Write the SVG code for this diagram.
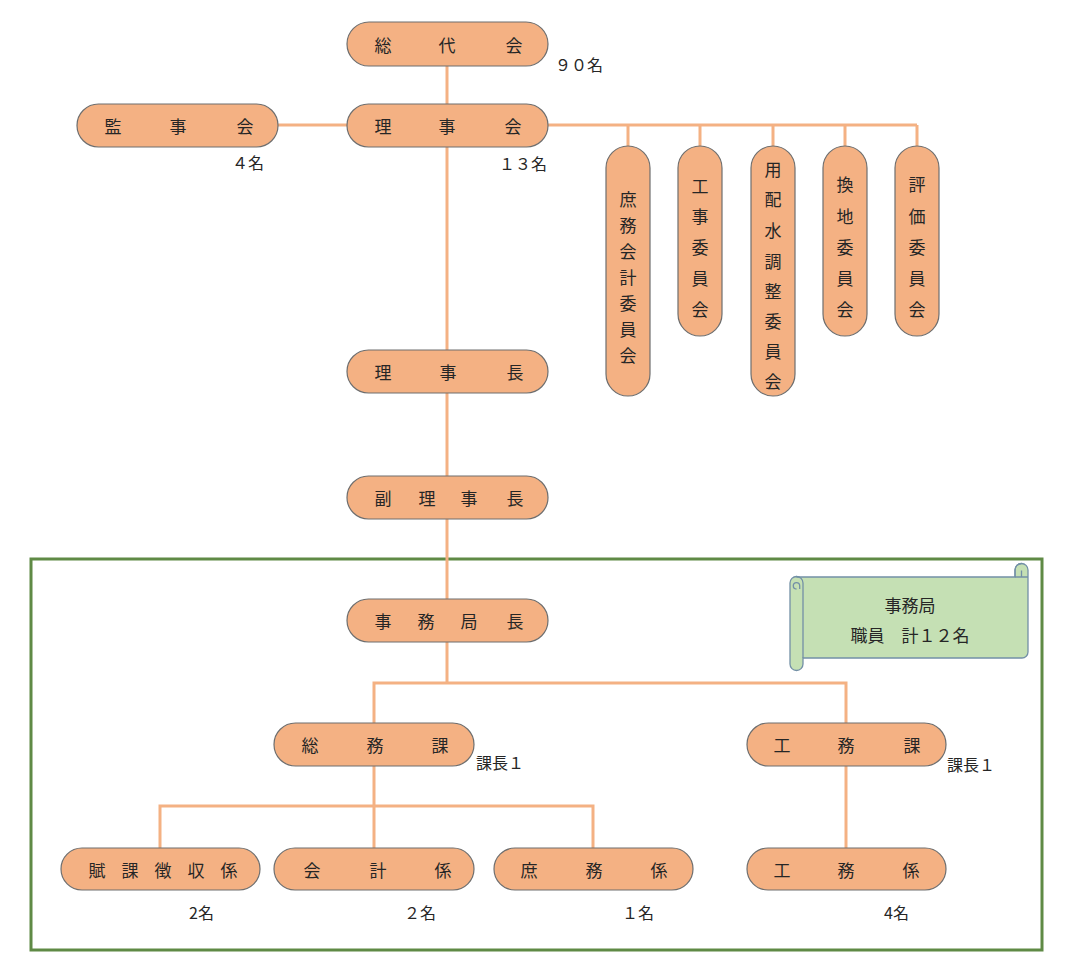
<svg xmlns="http://www.w3.org/2000/svg" width="1075" height="980" viewBox="0 0 1075 980">
<style>
.n{fill:#f4b183;stroke:#6e6e6e;stroke-width:1.2}
.t{font-family:"Noto Sans CJK JP","Noto Sans CJK SC",sans-serif;font-size:17px;fill:#262626;text-anchor:middle;dominant-baseline:central}
.l{font-family:"Noto Sans CJK JP","Noto Sans CJK SC",sans-serif;font-size:16px;fill:#262626;dominant-baseline:central}
.c{fill:none;stroke:#f4b183;stroke-width:3}
</style>
<rect x="0" y="0" width="1075" height="980" fill="#ffffff"/>
<rect id="frame" x="31" y="559" width="1011" height="391" fill="none" stroke="#5f8a45" stroke-width="3"/>
<g id="connectors">
<path class="c" d="M447,66V104"/>
<path class="c" d="M278,125H347"/>
<path class="c" d="M548,125H917M628,125V146M700,125V146M773,125V146M845,125V146M917,125V146"/>
<path class="c" d="M447,147V350"/>
<path class="c" d="M447,393V476"/>
<path class="c" d="M447,519V599"/>
<path class="c" d="M447,642V683M374,723V683H846V723"/>
<path class="c" d="M374,766V848M160,848V806H593V848"/>
<path class="c" d="M846,766V848"/>
</g>
<g id="n-sodaikai"><rect class="n" x="347" y="22" width="201" height="44" rx="22"/><text class="t" x="383 447 514" y="44">総代会</text></g>
<g id="n-rijikai"><rect class="n" x="347" y="104" width="201" height="43" rx="21.5"/><text class="t" x="383 447 513" y="125">理事会</text></g>
<g id="n-kanjikai"><rect class="n" x="77" y="104" width="201" height="43" rx="21.5"/><text class="t" x="113 178 245" y="125">監事会</text></g>
<g id="n-rijicho"><rect class="n" x="347" y="350" width="201" height="43" rx="21.5"/><text class="t" x="383 448 515" y="371">理事長</text></g>
<g id="n-fukurijicho"><rect class="n" x="347" y="476" width="201" height="43" rx="21.5"/><text class="t" x="383 427 469 515" y="497">副理事長</text></g>
<g id="n-jimukyokucho"><rect class="n" x="347" y="599" width="201" height="43" rx="21.5"/><text class="t" x="383 426 469 515" y="620">事務局長</text></g>
<g id="n-somuka"><rect class="n" x="274" y="723" width="200" height="43" rx="21.5"/><text class="t" x="310 375 440" y="744">総務課</text></g>
<g id="n-komuka"><rect class="n" x="747" y="723" width="199" height="43" rx="21.5"/><text class="t" x="782 846 912" y="744">工務課</text></g>
<g id="n-fuka"><rect class="n" x="61" y="848" width="199" height="42" rx="21"/><text class="t" x="97 130 163 196 229" y="869">賦課徴収係</text></g>
<g id="n-kaikei"><rect class="n" x="274" y="848" width="200" height="42" rx="21"/><text class="t" x="312 378 443" y="869">会計係</text></g>
<g id="n-shomu"><rect class="n" x="494" y="848" width="199" height="42" rx="21"/><text class="t" x="529 594 659" y="869">庶務係</text></g>
<g id="n-komugakari"><rect class="n" x="747" y="848" width="199" height="42" rx="21"/><text class="t" x="782 846 911" y="869">工務係</text></g>
<g id="n-c1"><rect class="n" x="606" y="146" width="44" height="250" rx="22"/><text class="t" x="628 628 628 628 628 628 628" y="198 224 250 276 302 328 354">庶務会計委員会</text></g>
<g id="n-c2"><rect class="n" x="678" y="146" width="44" height="190" rx="22"/><text class="t" x="700 700 700 700 700" y="185 215 246 277 308">工事委員会</text></g>
<g id="n-c3"><rect class="n" x="751" y="146" width="44" height="250" rx="22"/><text class="t" x="773 773 773 773 773 773 773 773" y="168 198 229 260 290 320 350 380">用配水調整委員会</text></g>
<g id="n-c4"><rect class="n" x="823" y="146" width="44" height="190" rx="22"/><text class="t" x="845 845 845 845 845" y="183 215 246 277 308">換地委員会</text></g>
<g id="n-c5"><rect class="n" x="895" y="146" width="44" height="190" rx="22"/><text class="t" x="917 917 917 917 917" y="183 215 246 277 308">評価委員会</text></g>
<g id="labels">
<text class="l" x="555" y="64">９０名</text>
<text class="l" x="232" y="162">４名</text>
<text class="l" x="499" y="163">１３名</text>
<text class="l" x="476" y="762">課長１</text>
<text class="l" x="947" y="764">課長１</text>
<text class="l" x="189" y="912">2名</text>
<text class="l" x="404" y="912">２名</text>
<text class="l" x="622" y="912">１名</text>
<text class="l" x="884" y="912">4名</text>
</g>
<g id="scroll">
<path d="M797,577H1015V570a6.5,6.5 0 0 1 13,0V652a6,6 0 0 1 -6,6H803V664a6.5,6.5 0 0 1 -13,0V583a6.5,6.5 0 0 1 6.5,-6.5z" fill="#c5e0b4" stroke="#7390a6" stroke-width="1.3"/>
<path d="M803,658V583a6.5,6.5 0 0 0 -6.5,-6.5M796.5,589a3.2,3.2 0 0 1 0,-6.4a3.2,3.2 0 0 1 3.2,3.2V589M1015,577V570a6.5,6.5 0 0 1 6.5,-6.5M1021.5,577V570.5M1015,577h13" fill="none" stroke="#7390a6" stroke-width="1.3"/>
<text class="t" x="910" y="604">事務局</text>
<text class="t" x="910" y="634">職員　計１２名</text>
</g>
</svg>
